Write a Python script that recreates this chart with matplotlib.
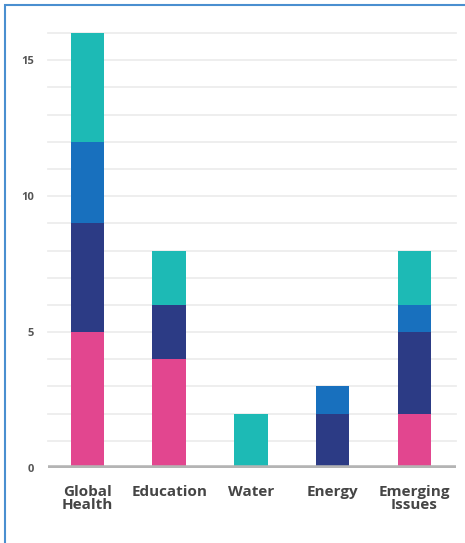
import matplotlib
matplotlib.use("Agg")
import matplotlib.pyplot as plt
from matplotlib.patches import Rectangle

categories = ["Global\nHealth", "Education", "Water", "Energy", "Emerging\nIssues"]
pink = [5, 4, 0, 0, 2]
navy = [4, 2, 0, 2, 3]
blue = [3, 0, 0, 1, 1]
teal = [4, 2, 2, 0, 2]
y_ticks = [0, 5, 10, 15]

colors = ["#e2468f", "#2c3b85", "#1870be", "#1dbab5"]
series = [pink, navy, blue, teal]

fig = plt.figure(figsize=(4.65, 5.43), dpi=100)
ax = fig.add_axes([48 / 465, 75 / 543, 408 / 465, 435 / 543])

x = list(range(len(categories)))
bottom = [0] * len(categories)
for vals, c in zip(series, colors):
    ax.bar(x, vals, width=0.41, bottom=bottom, color=c, zorder=3)
    bottom = [b + v for b, v in zip(bottom, vals)]

ax.set_xlim(-0.483, 4.508)
ax.set_ylim(0, 16.0)
for g in range(1, 17):
    ax.axhline(g, color="#ededed", lw=1.3, zorder=1, clip_on=False)
ax.axhline(0, color="#b4b4b4", lw=4, zorder=4)

for s in ax.spines.values():
    s.set_visible(False)
ax.set_yticks(y_ticks)
ax.set_yticklabels([str(t) for t in y_ticks], fontsize=8, fontweight="bold",
                   color="#555555", family="Open Sans")
ax.tick_params(axis="y", length=0, pad=10)
ax.set_xticks(x)
ax.set_xticklabels(categories, fontsize=11, fontweight="bold", color="#454545",
                   family="Open Sans", linespacing=0.9)
ax.tick_params(axis="x", length=0, pad=12)

fig.patches.append(Rectangle((5 / 465, -0.1), 1.2, (543 - 5) / 543 + 0.1,
                             transform=fig.transFigure, fill=False,
                             edgecolor="#4a8fd0", lw=1.5))

fig.savefig("out.png", dpi=100)
